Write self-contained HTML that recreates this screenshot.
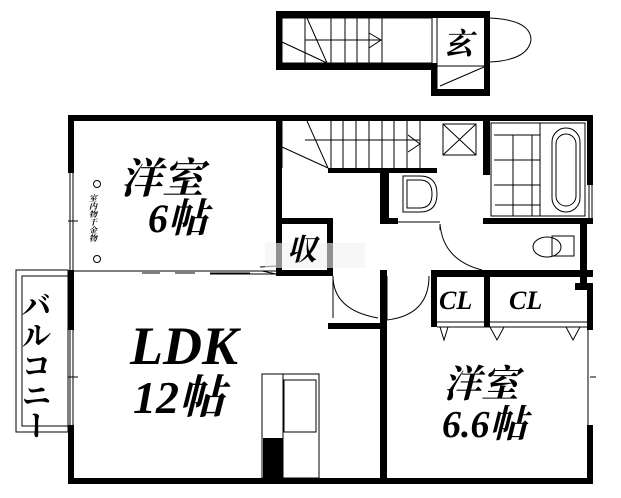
<!DOCTYPE html>
<html><head><meta charset="utf-8"><style>
html,body{margin:0;padding:0;background:#fff;width:621px;height:498px;overflow:hidden}
svg{display:block}
.t{font-family:"Liberation Serif","Noto Serif CJK SC",serif;font-style:italic;font-weight:bold;fill:#000}
</style></head><body>
<svg width="621" height="498" viewBox="0 0 621 498" xmlns="http://www.w3.org/2000/svg">
<g fill="#000">
<rect x="276" y="11" width="214" height="7"/>
<rect x="276" y="11" width="6" height="59"/>
<rect x="276" y="63" width="161" height="7"/>
<rect x="484" y="11" width="6" height="85"/>
<rect x="431" y="63" width="6" height="33"/>
<rect x="431" y="89" width="59" height="7"/>
<rect x="68" y="115" width="525" height="6"/>
<rect x="68" y="115" width="6" height="58"/>
<rect x="68" y="270" width="6" height="60"/>
<rect x="68" y="425" width="6" height="59"/>
<rect x="68" y="478" width="525" height="6"/>
<rect x="587" y="115" width="6" height="70"/>
<rect x="575" y="283" width="18" height="7"/>
<rect x="587" y="283" width="6" height="47"/>
<rect x="587" y="425" width="6" height="59"/>
<rect x="276" y="115" width="6" height="161"/>
<rect x="276" y="218" width="57" height="6"/>
<rect x="327" y="218" width="6" height="58"/>
<rect x="276" y="270" width="57" height="6"/>
<rect x="328" y="168" width="109" height="5"/>
<rect x="380" y="168" width="9" height="56"/>
<rect x="380" y="218" width="18" height="6"/>
<rect x="483" y="115" width="7" height="60"/>
<rect x="483" y="218" width="110" height="6"/>
<rect x="580" y="224" width="7" height="60"/>
<rect x="431" y="270" width="162" height="7"/>
<rect x="431" y="270" width="6" height="57"/>
<rect x="484" y="270" width="6" height="57"/>
<rect x="380" y="270" width="7" height="214"/>
<rect x="328" y="323" width="52" height="6"/>
<rect x="263" y="438" width="20" height="40"/>
</g>
<g fill="none" stroke="#000" stroke-width="1">
<rect x="282" y="18" width="150" height="45"/>
<path d="M305 18V63M331 18V63M345 18V63M357 18V63M369 18V63M382 18V63M305 40H381M369 33L381 40L369 48M282 42L327 63M307 18L327 63"/>
<path d="M437 18V89M437 66H484M440 86L484 67M490 18Q531 20 531 40Q528 60 490 62"/>
<path d="M282 121V168M305 140H420M331 121V168M343 121V168M356 121V168M369 121V168M382 121V168M394 121V168M407 121V168M420 121V168M408 135L420 144L408 152M282 147L328 168M307 121L328 168"/>
<rect x="443" y="124" width="33" height="31"/><path d="M443 124L476 155M476 124L443 155"/>
<path d="M403 176H420Q437 176 437 194Q437 212 420 212H403Z"/><path d="M407 180H420Q432 180 432 194Q432 208 420 208H407Z"/>
<path d="M398 222H440M440 224V230M440 224Q443 260 482 270"/>
<rect x="491" y="123" width="94" height="93"/>
<path d="M494 135H540M494 160H540M494 185H540M495 205H540M513 135V216M532 135V216M540 123V216"/>
<rect x="552" y="128" width="28" height="84" rx="14"/><rect x="556" y="134" width="20" height="72" rx="10"/>
<path d="M589 185V218M592 185V218"/>
<ellipse cx="547" cy="247" rx="14" ry="10"/><rect x="552" y="236" width="22" height="20"/>
<path d="M70 173V270M73 173V270M68 221H78M70 330V425M73 330V425M68 377H78"/>
<rect x="16" y="270" width="52" height="162"/><rect x="22" y="276" width="46" height="150"/>
<path d="M74 271H276M142 273H160M175 273H195M210 273H250M210 274H276M260 267L276 266M262 271L276 274"/>
<rect x="265" y="243" width="100" height="25" fill="#f2f2f2" stroke="none" opacity="0.6"/>
<path d="M333 276Q333 310 378 318M387 276V320M387 320Q429 315 429 276M333 276V318"/>
<path d="M437 322H587M437 327H587M440 327L444 340L448 327M490 327L497 340L504 327M566 327L573 340L580 327M588 330V425M590 377H596"/>
<rect x="262" y="374" width="57" height="104"/><rect x="284" y="380" width="32" height="52"/><path d="M283 374V478"/>
<circle cx="97" cy="184" r="3.5"/><circle cx="97" cy="259" r="3.5"/>
</g>
<text class="t" x="120" y="193" font-size="42">洋室</text>
<text class="t" x="148" y="232" font-size="40">6帖</text>
<text class="t" x="130" y="364" font-size="54">LDK</text>
<text class="t" x="133" y="413" font-size="46">12帖</text>
<text class="t" x="443" y="397" font-size="38">洋室</text>
<text class="t" x="442" y="437" font-size="38">6.6帖</text>
<text class="t" x="439" y="309" font-size="26">CL</text>
<text class="t" x="509" y="309" font-size="26">CL</text>
<text class="t" x="287" y="260" font-size="30">収</text>
<text class="t" x="443" y="54" font-size="30">玄</text>
<text class="t" font-size="8" x="93" y="194" writing-mode="tb">室内物干金物</text>
<text class="t" x="33" y="290" font-size="30" writing-mode="tb" style="font-style:normal">バルコニー</text>
</svg>
</body></html>
